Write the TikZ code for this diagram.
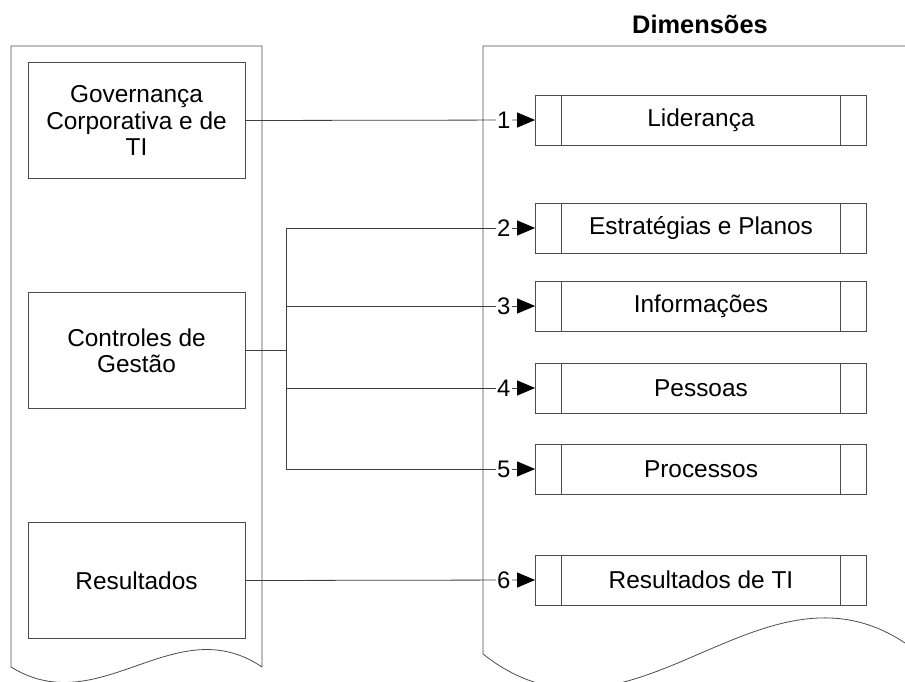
\documentclass[tikz,border=0pt]{standalone}
\usepackage{fontspec}
\setmainfont{Liberation Sans}
\usetikzlibrary{arrows.meta}
\begin{document}
\begin{tikzpicture}[x=1bp,y=-1bp,
 every node/.style={font=\fontsize{24.5}{26.5}\selectfont},
 box/.style={draw=black!70, line width=0.8bp, minimum width=217bp, minimum height=116bp, align=center, inner sep=0pt},
 dim/.style={draw=black!70, line width=0.8bp, minimum width=331bp, minimum height=50bp, inner sep=0pt,
   path picture={\draw[black!70,line width=0.8bp]
     ([xshift=26bp]path picture bounding box.north west) -- ([xshift=26bp]path picture bounding box.south west)
     ([xshift=-26bp]path picture bounding box.north east) -- ([xshift=-26bp]path picture bounding box.south east);}},
 doc/.style={draw=black!70, line width=0.8bp},
 conn/.style={draw=black!75, line width=0.8bp},
 arr/.style={conn, -{Triangle[length=18bp,width=15bp,color=black,fill=black]}},
 num/.style={fill=white, inner sep=1.5bp, font=\fontsize{24}{26}\selectfont}
]
\useasboundingbox (0,0) rectangle (905,682);
\clip (0,0) rectangle (905,682);
% document shapes
\draw[doc] (262,667) -- (262,46) -- (11,46) -- (11,667) .. controls (100,722) and (175,608) .. (262,667);
\draw[doc] (920,654) -- (920,46) -- (483,46) -- (483,654) .. controls (636,775) and (767,530) .. (920,654);
% title
\node[font=\fontsize{25.5}{28}\selectfont\bfseries] (title) at (700,24) {Dimensões};
% left boxes
\node[box] (gov) at (136.5,120.5) {Governança\\Corporativa e de\\TI};
\node[box] (ctl) at (136.5,350.5) {Controles de\\Gestão};
\node[box] (res) at (136.5,580.5) {Resultados};
% right boxes
\node[dim] (lid) at (701,120) {Liderança};
\node[dim] (est) at (701,228) {Estratégias e Planos};
\node[dim] (inf) at (701,306) {Informações};
\node[dim] (pes) at (701,388) {Pessoas};
\node[dim] (pro) at (701,469) {Processos};
\node[dim] (rti) at (701,580) {Resultados de TI};
% connectors
\coordinate (bus) at (286,350.5);
\draw[arr] (gov.east) -- node[num,pos=0.892]{1} (lid.west);
\draw[conn] (ctl.east) -- (bus);
\draw[conn] (bus |- est.west) -- (bus |- pro.west);
\draw[arr] (bus |- est.west) -- node[num,pos=0.874]{2} (est.west);
\draw[arr] (bus |- inf.west) -- node[num,pos=0.874]{3} (inf.west);
\draw[arr] (bus |- pes.west) -- node[num,pos=0.874]{4} (pes.west);
\draw[arr] (bus |- pro.west) -- node[num,pos=0.874]{5} (pro.west);
\draw[arr] (res.east) -- node[num,pos=0.892]{6} (rti.west);
\end{tikzpicture}
\end{document}
